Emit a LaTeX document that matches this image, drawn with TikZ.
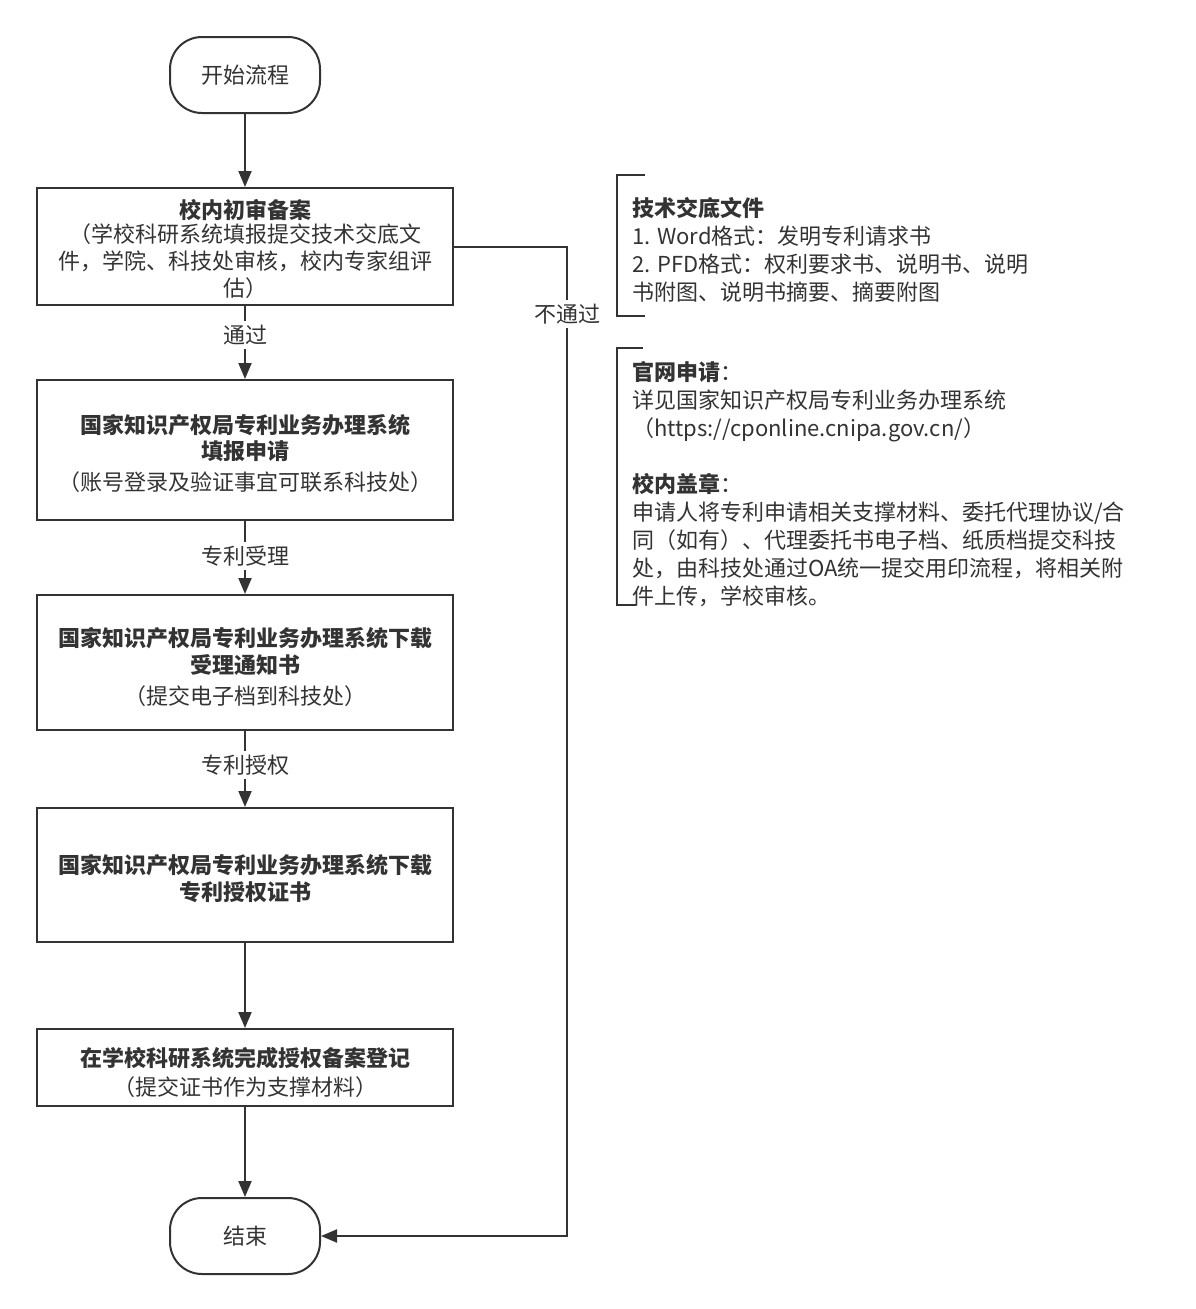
\documentclass[tikz,border=0pt]{standalone}
\usepackage{fontspec}
\setmainfont{Noto Sans CJK SC}
\usetikzlibrary{arrows.meta}
\definecolor{ln}{HTML}{333333}
\definecolor{tx}{HTML}{333333}
\newcommand{\topstrut}[1]{\rule{0pt}{#1pt}}
\newcommand{\botstrut}{\rule[-6pt]{0pt}{0pt}}
\begin{document}
\begin{tikzpicture}[x=1pt,y=-1pt,
  every node/.style={font=\fontsize{22}{27}\selectfont, text=tx},
  proc/.style={draw=ln, line width=2pt, rectangle, minimum width=416pt, align=center, inner sep=0pt},
  term/.style={draw=ln, line width=2pt, rounded corners=32pt, minimum width=150pt, minimum height=76pt, inner sep=0pt},
  arr/.style={draw=ln, line width=2pt, -{Triangle[length=16pt,width=13pt]}},
  lbl/.style={fill=white, inner sep=4pt},
  ann/.style={align=left, anchor=west, inner sep=0pt, font=\fontsize{22}{28}\selectfont},
  brk/.style={draw=ln, line width=2pt}
]
\useasboundingbox (0,0) rectangle (1195,1309);

\node[term] (start) at (245,75) {开始流程};
\node[proc, minimum height=117pt] (b1) at (245,246.5) {\topstrut{28.8}\textbf{校内初审备案}\\[-3pt]（学校科研系统填报提交技术交底文\\件，学院、科技处审核，校内专家组评\\估）\botstrut};
\node[proc, minimum height=140pt] (b2) at (245,450) {\topstrut{29.8}\textbf{国家知识产权局专利业务办理系统}\\[-1pt]\textbf{填报申请}\\[4pt]（账号登录及验证事宜可联系科技处）\botstrut};
\node[proc, minimum height=135pt] (b3) at (245,662.5) {\topstrut{32.8}\textbf{国家知识产权局专利业务办理系统下载}\\[0pt]\textbf{受理通知书}\\[4pt]（提交电子档到科技处）\botstrut};
\node[proc, minimum height=134pt] (b4) at (245,875) {\topstrut{29.8}\textbf{国家知识产权局专利业务办理系统下载}\\\textbf{专利授权证书}\botstrut};
\node[proc, minimum height=77pt] (b5) at (245,1067.5) {\topstrut{32.8}\textbf{在学校科研系统完成授权备案登记}\\[2pt]（提交证书作为支撑材料）\botstrut};
\node[term] (end) at (245,1236) {结束};

\draw[arr] (start) -- (b1);
\draw[arr] (b1) -- node[lbl, pos=0.4] {通过} (b2);
\draw[arr] (b2) -- node[lbl, pos=0.48] {专利受理} (b3);
\draw[arr] (b3) -- node[lbl, pos=0.45] {专利授权} (b4);
\draw[arr] (b4) -- (b5);
\draw[arr] (b5) -- (end);

\coordinate (c1) at (567,246.5);
\coordinate (c2) at (567,1236);
\draw[arr] (b1.east) -- (c1) -- node[lbl, pos=0.068] {不通过} (c2) -- (end.east);

\node[ann] (n1) at (632,250) {\textbf{技术交底文件}\\1. Word格式：发明专利请求书\\2. PFD格式：权利要求书、说明书、说明\\书附图、说明书摘要、摘要附图};
\draw[brk] (645,175) -- (617,175) -- (617,316) -- (645,316);

\node[ann] (n2) at (632,484) {\textbf{官网申请}：\\详见国家知识产权局专利业务办理系统\\（https://cponline.cnipa.gov.cn/）\\[28pt]\textbf{校内盖章}：\\申请人将专利申请相关支撑材料、委托代理协议/合\\同（如有）、代理委托书电子档、纸质档提交科技\\处，由科技处通过OA统一提交用印流程，将相关附\\件上传，学校审核。};
\draw[brk] (643,348) -- (617,348) -- (617,605) -- (636,605);
\end{tikzpicture}
\end{document}
